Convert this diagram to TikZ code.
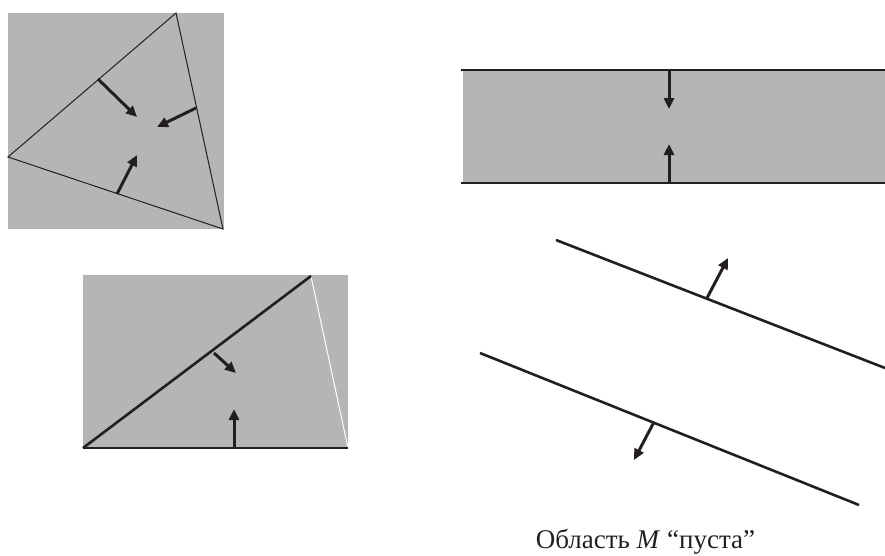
\documentclass[tikz,border=0pt]{standalone}
\usepackage{fontspec}
\setmainfont{Liberation Serif}
\usetikzlibrary{arrows.meta}
\definecolor{fillgray}{RGB}{180,181,183}
\definecolor{ink}{RGB}{35,31,32}
\tikzset{
  thinedge/.style={draw=ink, line width=1pt},
  thickedge/.style={draw=ink, line width=2.6pt},
  normalarrow/.style={draw=ink, line width=3pt, -{Triangle[length=11pt,width=10pt]}},
}
\begin{document}
\begin{tikzpicture}[x=1pt,y=-1pt]
\useasboundingbox (0,0) rectangle (885,555);
% panel 1
\fill[fillgray] (8,13) rectangle (224,229);
\coordinate (t1) at (176,13);
\coordinate (t2) at (8,157);
\coordinate (t3) at (223,229);
\draw[thinedge] (t1) -- (t2) -- (t3) -- cycle;
\coordinate (a1s) at (98,79); \coordinate (a1e) at (137,117);
\coordinate (a2s) at (196,108); \coordinate (a2e) at (157,127);
\coordinate (a3s) at (117,194); \coordinate (a3e) at (137,155);
\draw[normalarrow] (a1s) -- (a1e);
\draw[normalarrow] (a2s) -- (a2e);
\draw[normalarrow] (a3s) -- (a3e);
% panel 2
\fill[fillgray] (83,275) rectangle (348,448);
\coordinate (q1) at (83,448);
\coordinate (q2) at (311,276);
\coordinate (q3) at (348,448);
\draw[white, line width=1pt] (q2) -- (q3);
\draw[thickedge] (q1) -- (q2);
\draw[thickedge] (q1) -- (q3);
\coordinate (b1s) at (214,353); \coordinate (b1e) at (236,373);
\coordinate (b2s) at (234,448); \coordinate (b2e) at (234,409);
\draw[normalarrow] (b1s) -- (b1e);
\draw[normalarrow] (b2s) -- (b2e);
% panel 3
\fill[fillgray] (463,70) rectangle (885,183);
\coordinate (l1s) at (461,70); \coordinate (l1e) at (885,70);
\coordinate (l2s) at (461,183); \coordinate (l2e) at (885,183);
\draw[thickedge] (l1s) -- (l1e);
\draw[thickedge] (l2s) -- (l2e);
\coordinate (c1s) at (669,70); \coordinate (c1e) at (669,109);
\coordinate (c2s) at (669,183); \coordinate (c2e) at (669,144);
\draw[normalarrow] (c1s) -- (c1e);
\draw[normalarrow] (c2s) -- (c2e);
% panel 4
\coordinate (m1s) at (556,240); \coordinate (m1e) at (885,368);
\coordinate (m2s) at (480,353); \coordinate (m2e) at (859,505);
\draw[thickedge] (m1s) -- (m1e);
\draw[thickedge] (m2s) -- (m2e);
\coordinate (d1s) at (707,298); \coordinate (d1e) at (728,258);
\coordinate (d2s) at (654,422); \coordinate (d2e) at (634,460);
\draw[normalarrow] (d1s) -- (d1e);
\draw[normalarrow] (d2s) -- (d2e);
\node[anchor=base, inner sep=0pt, text=ink, font=\fontsize{27}{32}\selectfont] (caption) at (645.5,548) {Область \textit{M} “пуста”};
\end{tikzpicture}
\end{document}
